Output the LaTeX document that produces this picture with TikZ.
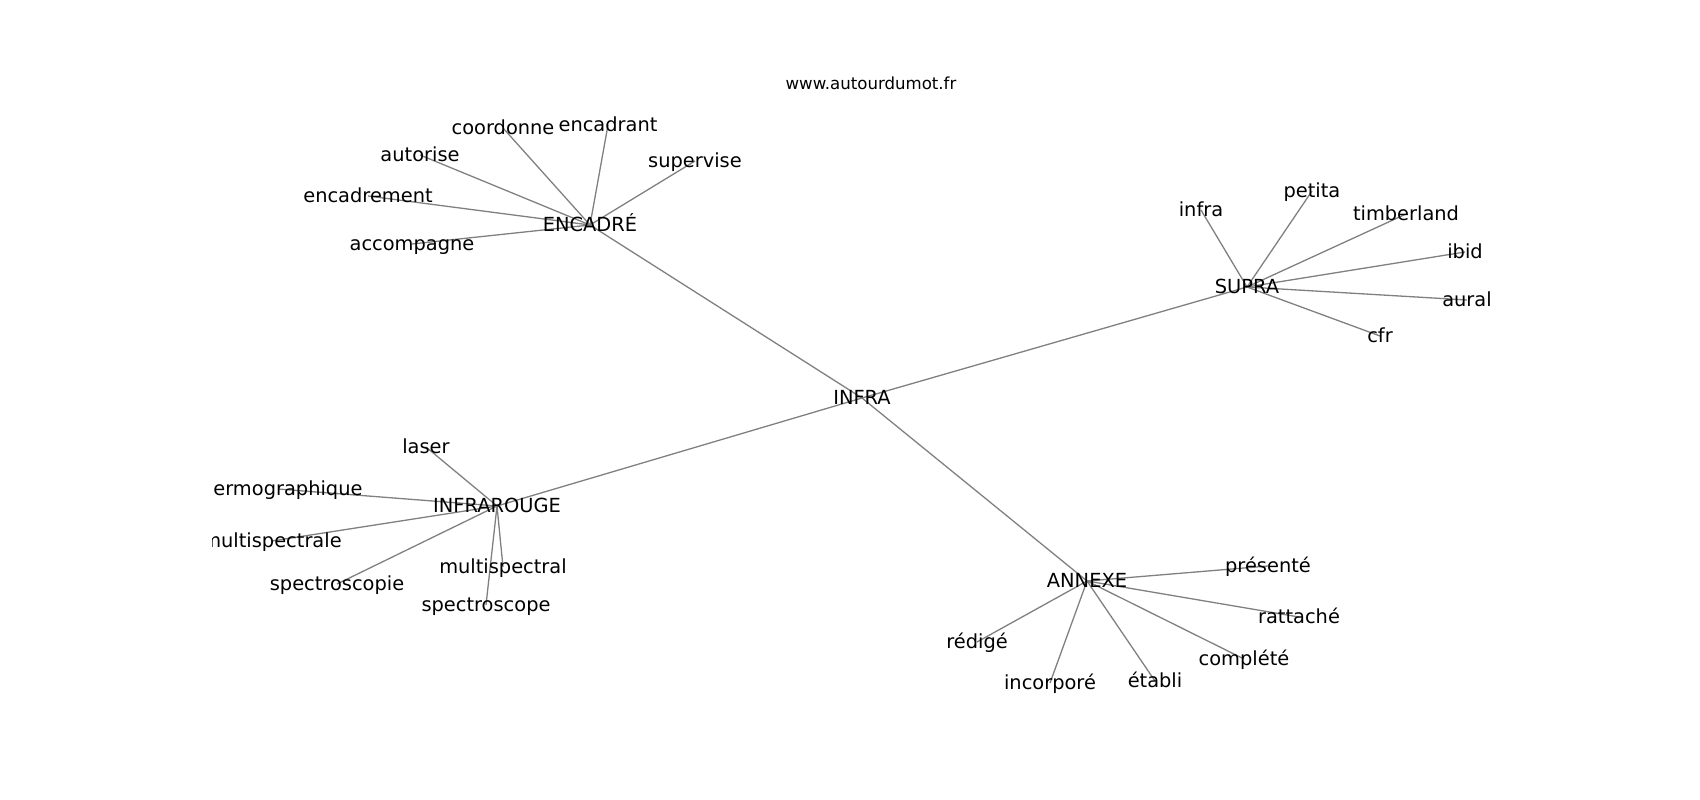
\documentclass[tikz,border=0pt]{standalone}
\usepackage{fontspec}
\setmainfont{DejaVu Sans}
\usepackage{tikz}
\usetikzlibrary{backgrounds}

\begin{document}
\begin{tikzpicture}[x=1pt, y=-1pt,
        word/.style={inner sep=0pt, text height=15.6pt, text depth=3.4pt, font=\fontsize{19.4}{23}\selectfont},
        link/.style={draw=gray, line width=1.3pt}]
            \useasboundingbox (0,0) rectangle (1700,800);

            \node[inner sep=0pt, text height=12.8pt, text depth=3.2pt, font=\fontsize{16.6}{20}\selectfont] (title) at (871,85) {www.autourdumot.fr};

            \begin{scope}
            \clip (212.5,96) rectangle (1530,712);% Axes

            \node[word] (infra) at (862,398) {INFRA};

            \node[word] (encadre) at (590,225) {ENCADRÉ};
            \node[word] (coordonne) at (503,128) {coordonne};
            \node[word] (encadrant) at (608,125) {encadrant};
            \node[word] (autorise) at (420,155) {autorise};
            \node[word] (supervise) at (695,161) {supervise};
            \node[word] (encadrement) at (368,196) {encadrement};
            \node[word] (accompagne) at (412,244) {accompagne};

            \node[word] (supra) at (1247,287) {SUPRA};
            \node[word] (infrab) at (1201,210) {infra};
            \node[word] (petita) at (1312,191) {petita};
            \node[word] (timberland) at (1406,214) {timberland};
            \node[word] (ibid) at (1465,252) {ibid};
            \node[word] (aural) at (1467,300) {aural};
            \node[word] (cfr) at (1380,336) {cfr};

            \node[word] (infrarouge) at (497,506) {INFRAROUGE};
            \node[word] (laser) at (426,447) {laser};
            \node[word] (thermo) at (278,489) {thermographique};
            \node[word] (multia) at (272,541) {multispectrale};
            \node[word] (spectroa) at (337,584) {spectroscopie};
            \node[word] (multib) at (503,567) {multispectral};
            \node[word] (spectrob) at (486,605) {spectroscope};

            \node[word] (annexe) at (1087,581) {ANNEXE};
            \node[word] (presente) at (1268,566) {présenté};
            \node[word] (rattache) at (1299,617) {rattaché};
            \node[word] (redige) at (977,642) {rédigé};
            \node[word] (incorpore) at (1050,683) {incorporé};
            \node[word] (etabli) at (1155,681) {établi};
            \node[word] (complete) at (1244,659) {complété};
            \end{scope}

            \begin{scope}[on background layer]
            \draw[link] (infra.center) -- (encadre.center);
            \draw[link] (infra.center) -- (supra.center);
            \draw[link] (infra.center) -- (infrarouge.center);
            \draw[link] (infra.center) -- (annexe.center);

            \draw[link] (encadre.center) -- (coordonne.center);
            \draw[link] (encadre.center) -- (encadrant.center);
            \draw[link] (encadre.center) -- (autorise.center);
            \draw[link] (encadre.center) -- (supervise.center);
            \draw[link] (encadre.center) -- (encadrement.center);
            \draw[link] (encadre.center) -- (accompagne.center);

            \draw[link] (supra.center) -- (infrab.center);
            \draw[link] (supra.center) -- (petita.center);
            \draw[link] (supra.center) -- (timberland.center);
            \draw[link] (supra.center) -- (ibid.center);
            \draw[link] (supra.center) -- (aural.center);
            \draw[link] (supra.center) -- (cfr.center);

            \draw[link] (infrarouge.center) -- (laser.center);
            \draw[link] (infrarouge.center) -- (thermo.center);
            \draw[link] (infrarouge.center) -- (multia.center);
            \draw[link] (infrarouge.center) -- (spectroa.center);
            \draw[link] (infrarouge.center) -- (multib.center);
            \draw[link] (infrarouge.center) -- (spectrob.center);

            \draw[link] (annexe.center) -- (presente.center);
            \draw[link] (annexe.center) -- (rattache.center);
            \draw[link] (annexe.center) -- (redige.center);
            \draw[link] (annexe.center) -- (incorpore.center);
            \draw[link] (annexe.center) -- (etabli.center);
            \draw[link] (annexe.center) -- (complete.center);
            \end{scope}
        \end{tikzpicture}
\end{document}
